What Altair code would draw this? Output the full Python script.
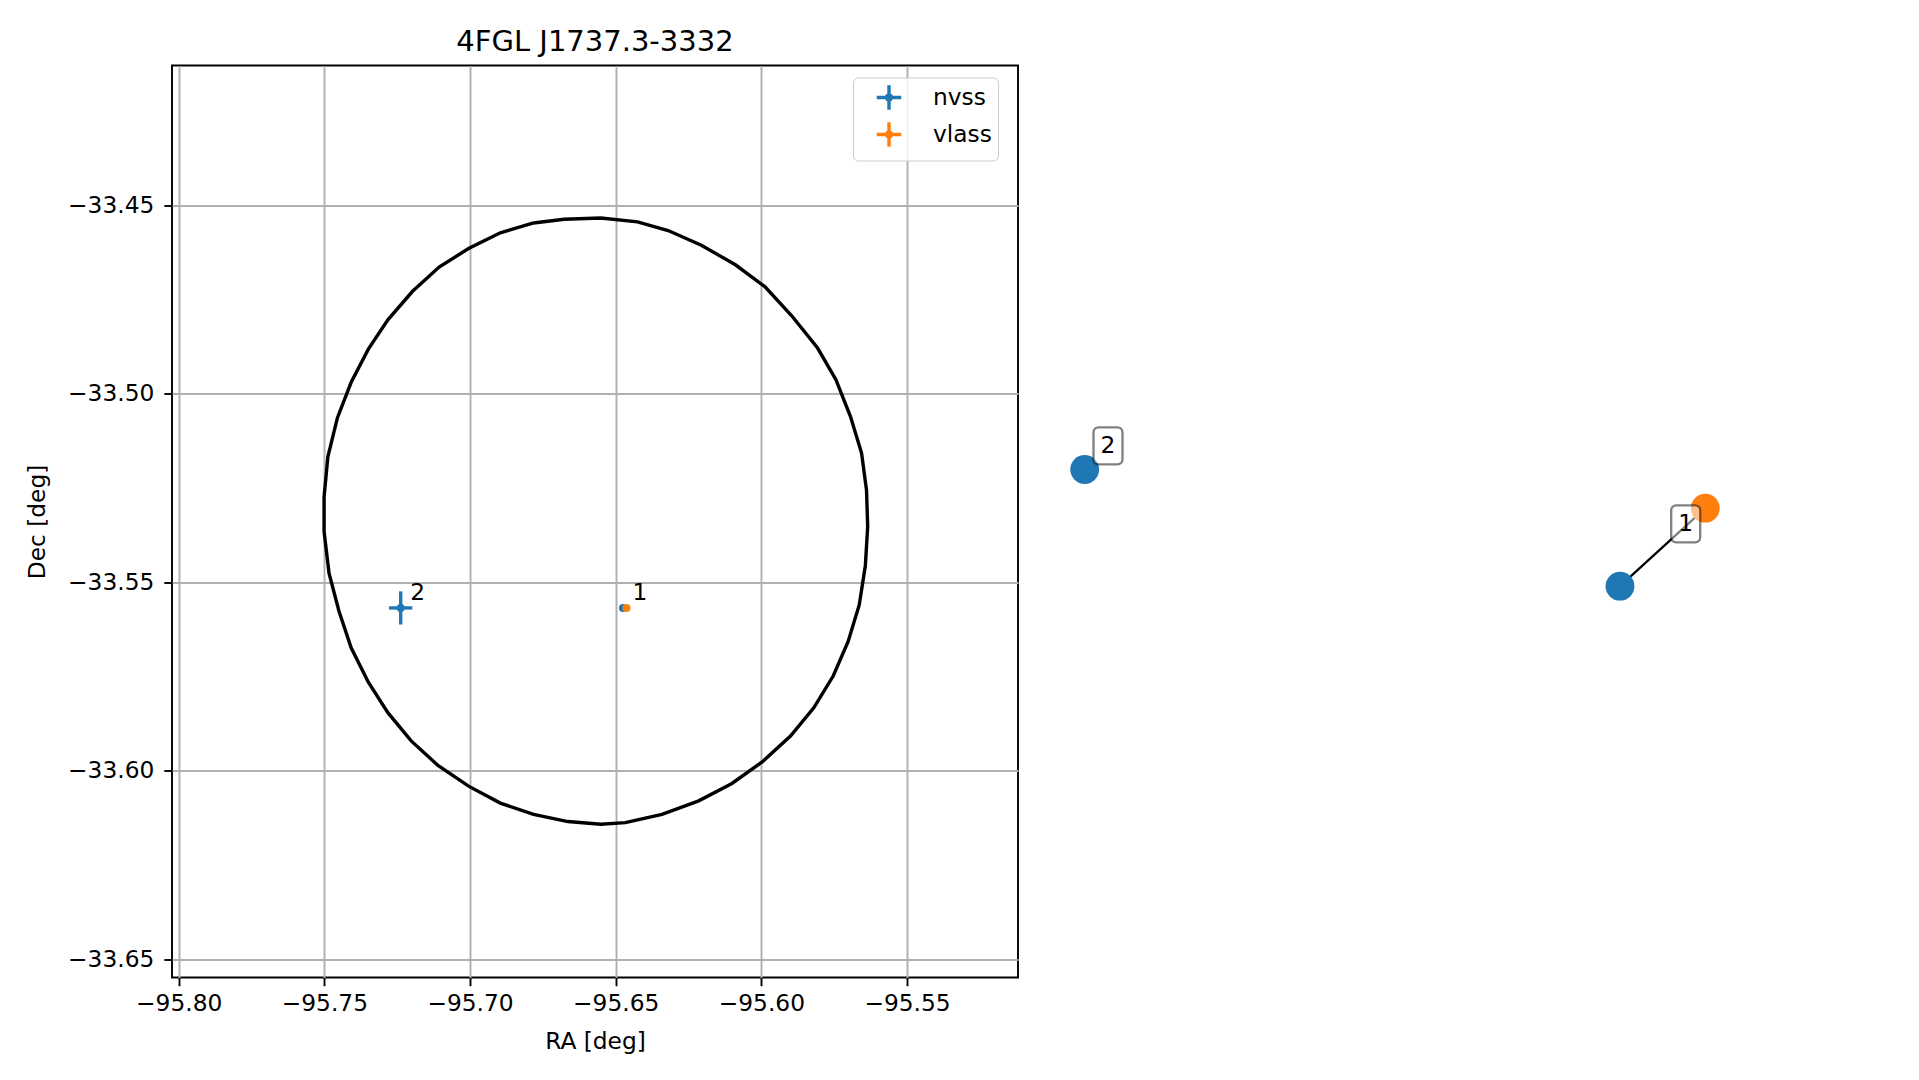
import altair as alt
import pandas as pd

# ---------------- text / axes ----------------
TITLE = "4FGL J1737.3-3332"
X_TITLE = "RA [deg]"
Y_TITLE = "Dec [deg]"
x_ticks = [-95.80, -95.75, -95.70, -95.65, -95.60, -95.55]
y_ticks = [-33.65, -33.60, -33.55, -33.50, -33.45]
x_domain = [-95.8023, -95.5119]
y_domain = [-33.6549, -33.4128]

# ---------------- 4FGL error ellipse (polygon vertices) ----------------
ell_ra = [-95.6782, -95.6677, -95.6551, -95.6425, -95.6320, -95.6206, -95.6089, -95.5988,
          -95.5895, -95.5807, -95.5744, -95.5694, -95.5656, -95.5639, -95.5635, -95.5643,
          -95.5664, -95.5702, -95.5753, -95.5820, -95.5900, -95.5996, -95.6101, -95.6215,
          -95.6341, -95.6467, -95.6551, -95.6664, -95.6782, -95.6896, -95.7005, -95.7110,
          -95.7202, -95.7282, -95.7349, -95.7408, -95.7450, -95.7484, -95.7501, -95.7501,
          -95.7488, -95.7455, -95.7408, -95.7349, -95.7282, -95.7198, -95.7106, -95.7005,
          -95.6896, -95.6782]
ell_dec = [-33.4546, -33.4536, -33.4533, -33.4543, -33.4566, -33.4605, -33.4657, -33.4715,
           -33.4793, -33.4878, -33.4962, -33.5060, -33.5157, -33.5255, -33.5352, -33.5456,
           -33.5560, -33.5657, -33.5748, -33.5833, -33.5908, -33.5976, -33.6034, -33.6080,
           -33.6116, -33.6138, -33.6142, -33.6135, -33.6116, -33.6086, -33.6041, -33.5986,
           -33.5921, -33.5846, -33.5765, -33.5674, -33.5576, -33.5476, -33.5365, -33.5274,
           -33.5167, -33.5063, -33.4969, -33.4881, -33.4803, -33.4728, -33.4663, -33.4614,
           -33.4572, -33.4546]

# ---------------- radio counterparts ----------------
surveys = ["nvss", "vlass"]
survey_colors = ["#1f77b4", "#ff7f0e"]

src_survey = ["nvss", "nvss", "vlass"]
src_label = ["2", "1", ""]
src_ra = [-95.7238, -95.6475, -95.6463]
src_dec = [-33.5568, -33.5568, -33.5568]
src_ra_err = [0.0040, 0.0006, 0.0004]
src_dec_err = [0.0044, 0.0006, 0.0004]

# ---------------- association graph (right panel, layout units) ----------------
node_survey = ["nvss", "nvss", "vlass"]
node_x = [0.467, 5.820, 6.673]
node_y = [5.080, 3.913, 4.693]
edge_from = [1]
edge_to = [2]
box_text = ["2", "1"]
box_x = [0.700, 6.477]
box_y = [5.317, 4.537]
right_x_domain = [0, 8.6]
right_y_domain = [0, 9.12]

FONT = "DejaVu Sans"
FS = 23.3

# ---------------- tables ----------------
ell_df = pd.DataFrame({"ra": ell_ra, "dec": ell_dec, "i": list(range(len(ell_ra)))})
src_df = pd.DataFrame({
    "survey": src_survey, "label": src_label, "ra": src_ra, "dec": src_dec,
    "ra_lo": [r - e for r, e in zip(src_ra, src_ra_err)],
    "ra_hi": [r + e for r, e in zip(src_ra, src_ra_err)],
    "dec_lo": [d - e for d, e in zip(src_dec, src_dec_err)],
    "dec_hi": [d + e for d, e in zip(src_dec, src_dec_err)],
})
lab_df = src_df[src_df["label"] != ""]

node_df = pd.DataFrame({"survey": node_survey, "x": node_x, "y": node_y})
edge_df = pd.DataFrame({
    "x": [node_x[a] for a in edge_from], "y": [node_y[a] for a in edge_from],
    "x2": [node_x[b] for b in edge_to], "y2": [node_y[b] for b in edge_to],
})
box_df = pd.DataFrame({"t": box_text, "x": box_x, "y": box_y})

# ---------------- left panel ----------------
ax_x = alt.Axis(values=x_ticks, format=".2f", title=X_TITLE, grid=True,
                gridColor="#b0b0b0", gridWidth=1.9, domain=False,
                tickColor="black", tickWidth=1.9, tickSize=8.2,
                labelFont=FONT, labelFontSize=FS, labelColor="black", labelPadding=7,
                labelFlush=False, labelOverlap=False,
                titleFont=FONT, titleFontSize=FS, titleFontWeight="normal",
                titleColor="black", titlePadding=15)
ax_y = alt.Axis(values=y_ticks, format=".2f", title=Y_TITLE, grid=True,
                gridColor="#b0b0b0", gridWidth=1.9, domain=False,
                tickColor="black", tickWidth=1.9, tickSize=8.2,
                labelFont=FONT, labelFontSize=FS, labelColor="black", labelPadding=10,
                labelFlush=False, labelOverlap=False,
                titleFont=FONT, titleFontSize=FS, titleFontWeight="normal",
                titleColor="black", titlePadding=18)
xs = alt.Scale(domain=x_domain, nice=False, zero=False)
ys = alt.Scale(domain=y_domain, nice=False, zero=False)
cscale = alt.Scale(domain=surveys, range=survey_colors)

CROSS = "M-1,0L1,0M0,-1L0,1M0.2,0A0.2,0.2,0,1,1,-0.2,0A0.2,0.2,0,1,1,0.2,0Z"
leg = alt.Legend(title=None, orient="none", legendX=681, legendY=12,
                 symbolType=CROSS, symbolSize=600, symbolStrokeWidth=3.4,
                 labelFont=FONT, labelFontSize=FS, labelColor="black",
                 padding=6, rowPadding=-3, symbolOffset=16, labelOffset=30,
                 strokeColor="#cccccc", fillColor="rgba(255,255,255,0.8)",
                 cornerRadius=5)

ellipse = alt.Chart(ell_df).mark_line(color="black", strokeWidth=3.4).encode(
    x=alt.X("ra:Q", scale=xs, axis=ax_x),
    y=alt.Y("dec:Q", scale=ys, axis=ax_y),
    order="i:Q",
)
xerr = alt.Chart(src_df).mark_rule(strokeWidth=3.4).encode(
    x=alt.X("ra_lo:Q", scale=xs, axis=ax_x), x2="ra_hi:Q",
    y=alt.Y("dec:Q", scale=ys, axis=ax_y),
    color=alt.Color("survey:N", scale=cscale, legend=leg),
)
yerr = alt.Chart(src_df).mark_rule(strokeWidth=3.4).encode(
    x=alt.X("ra:Q", scale=xs, axis=ax_x),
    y=alt.Y("dec_lo:Q", scale=ys, axis=ax_y), y2="dec_hi:Q",
    color=alt.Color("survey:N", scale=cscale, legend=leg),
)
pts = alt.Chart(src_df).mark_circle(size=65, opacity=1).encode(
    x=alt.X("ra:Q", scale=xs, axis=ax_x),
    y=alt.Y("dec:Q", scale=ys, axis=ax_y),
    color=alt.Color("survey:N", scale=cscale, legend=leg),
)
labels = alt.Chart(lab_df).mark_text(dx=17, dy=-15, fontSize=FS, font=FONT,
                                     color="black").encode(
    x=alt.X("ra:Q", scale=xs, axis=ax_x),
    y=alt.Y("dec:Q", scale=ys, axis=ax_y),
    text="label:N",
)

left = alt.layer(ellipse, xerr, yerr, pts, labels).properties(
    width=846, height=912,
    title=alt.TitleParams(TITLE, fontSize=29, fontWeight="normal", font=FONT,
                          color="black", anchor="middle", baseline="alphabetic",
                          offset=-14.5),
    view=alt.ViewBackground(stroke="black", strokeWidth=1.9),
)

# ---------------- right panel ----------------
rxs = alt.Scale(domain=right_x_domain, nice=False, zero=False)
rys = alt.Scale(domain=right_y_domain, nice=False, zero=False)

edges = alt.Chart(edge_df).mark_rule(color="black", strokeWidth=2.3).encode(
    x=alt.X("x:Q", scale=rxs, axis=None), y=alt.Y("y:Q", scale=rys, axis=None),
    x2="x2:Q", y2="y2:Q",
)
nodes = alt.Chart(node_df).mark_circle(size=830, opacity=1).encode(
    x=alt.X("x:Q", scale=rxs, axis=None), y=alt.Y("y:Q", scale=rys, axis=None),
    color=alt.Color("survey:N", scale=cscale, legend=None),
)
boxes = alt.Chart(box_df).mark_rect(
    fill="white", fillOpacity=0.5, stroke="black", strokeOpacity=0.5, strokeWidth=2.3,
    cornerRadius=5, xOffset=-14.5, x2Offset=14.5, yOffset=-18.5, y2Offset=18.5,
).encode(
    x=alt.X("x:Q", scale=rxs, axis=None), x2="x:Q",
    y=alt.Y("y:Q", scale=rys, axis=None), y2="y:Q",
)
btext = alt.Chart(box_df).mark_text(fontSize=FS, font=FONT, color="black",
                                    baseline="middle", align="center").encode(
    x=alt.X("x:Q", scale=rxs, axis=None), y=alt.Y("y:Q", scale=rys, axis=None),
    text="t:N",
)
right = alt.layer(edges, nodes, boxes, btext).properties(width=860, height=912)

chart = alt.hconcat(left, right, spacing=20, bounds="flush").resolve_scale(
    color="independent"
).properties(
    padding={"left": 16, "top": 18.5, "right": 5, "bottom": 5},
).configure(font=FONT).configure_view(stroke="transparent")

chart.save("out.html", embed_options={"renderer": "svg", "actions": False})
